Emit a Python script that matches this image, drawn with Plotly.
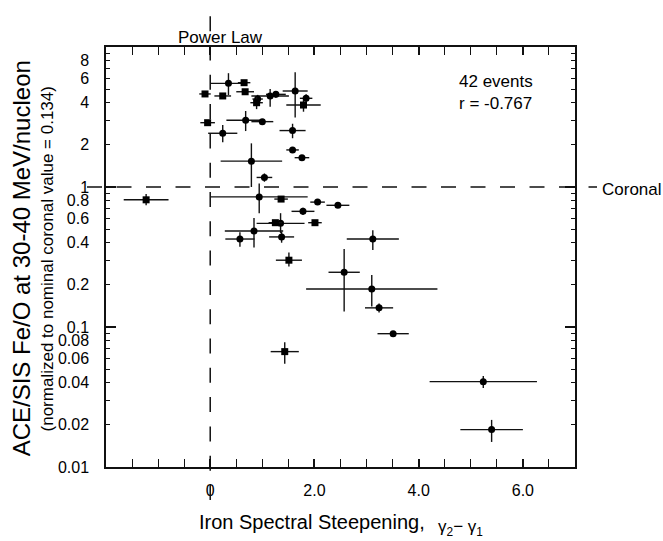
import plotly.graph_objects as go

# ---------------- data ----------------
# events plotted with filled circles
circ_x = [0.35, 0.91, 1.15, 1.26, 1.63, 1.84, 0.68, 1.00, 0.24, 1.58, 1.58, 1.76, 0.79, 1.04,
          0.94, 2.06, 2.45, 1.78, 1.35, 0.84, 0.57, 1.37, 2.57, 3.10, 3.12, 3.24, 3.51, 5.24, 5.40]
circ_y = [5.5, 4.25, 4.47, 4.59, 4.85, 4.30, 3.00, 2.93, 2.42, 2.53, 1.84, 1.62, 1.53, 1.17,
          0.85, 0.78, 0.74, 0.67, 0.55, 0.485, 0.425, 0.44, 0.246, 0.187, 0.425, 0.137, 0.0896, 0.0407, 0.0185]
circ_xerr = [0.35, 0.10, 0.36, 0.19, 0.24, 0.12, 0.37, 0.21, 0.28, 0.25, 0.12, 0.14, 0.59, 0.15,
             0.93, 0.14, 0.22, 0.22, 0.46, 0.56, 0.28, 0.24, 0.30, 1.26, 0.50, 0.27, 0.30, 1.03, 0.60]
circ_yerr_up = [1.0, 0.3, 0.55, 0.25, 1.75, 0.3, 0.49, 0.1, 0.35, 0.3, 0.05, 0.05, 0.52, 0.08,
                0.21, 0.02, 0.02, 0.04, 0.10, 0.115, 0.05, 0.04, 0.114, 0.048, 0.065, 0.01, 0.004, 0.004, 0.0032]
circ_yerr_dn = [0.96, 0.3, 0.72, 0.25, 1.72, 0.3, 0.49, 0.1, 0.33, 0.3, 0.05, 0.05, 0.53, 0.08,
                0.20, 0.02, 0.02, 0.04, 0.08, 0.115, 0.05, 0.04, 0.117, 0.047, 0.07, 0.01, 0.004, 0.004, 0.0034]

# events plotted with filled squares
sq_x = [0.65, -0.10, 0.24, 0.67, 0.89, 1.79, -0.05, -1.23, 1.36, 2.01, 1.25, 1.51, 1.43]
sq_y = [5.56, 4.62, 4.47, 4.79, 4.00, 3.85, 2.88, 0.81, 0.82, 0.556, 0.556, 0.30, 0.0667]
sq_xerr = [0.12, 0.11, 0.16, 0.17, 0.12, 0.33, 0.14, 0.43, 0.13, 0.13, 0.13, 0.25, 0.27]
sq_yerr_up = [0.1, 0.1, 0.1, 0.1, 0.4, 0.33, 0.1, 0.08, 0.03, 0.02, 0.02, 0.04, 0.011]
sq_yerr_dn = [0.1, 0.1, 0.1, 0.1, 0.4, 0.40, 0.1, 0.07, 0.03, 0.02, 0.02, 0.03, 0.012]

# axes
x_range = [-2.0, 7.0]
x_tickvals = [0, 2, 4, 6]
x_ticktext = ["0", "2.0", "4.0", "6.0"]
y_range_log = [-2, 1]
y_tickvals = [0.01, 0.02, 0.04, 0.06, 0.08, 0.1, 0.2, 0.4, 0.6, 0.8, 1, 2, 4, 6, 8]
y_ticktext = ["0.01", "0.02", "0.04", "0.06", "0.08", "0.1", "0.2", "0.4", "0.6", "0.8", "1", "2", "4", "6", "8"]
y_minorvals = [0.03, 0.05, 0.07, 0.09, 0.3, 0.5, 0.7, 0.9, 3, 5, 7, 9]
y_decades = [0.01, 0.1, 1, 10]

coronal_level = 1.0
power_law_level = 0.0
n_events_text = "42 events"
corr_text = "r = -0.767"

FONT = "Liberation Sans, Arial, sans-serif"
INK = "#111111"

fig = go.Figure()

err_style = dict(type="data", color=INK, thickness=1.4, width=0)

fig.add_trace(go.Scatter(
    x=circ_x, y=circ_y, mode="markers",
    marker=dict(symbol="circle", size=7, color="black"),
    error_x=dict(array=circ_xerr, **err_style),
    error_y=dict(symmetric=False, array=circ_yerr_up, arrayminus=circ_yerr_dn, **err_style),
    showlegend=False, hoverinfo="x+y"))

fig.add_trace(go.Scatter(
    x=sq_x, y=sq_y, mode="markers",
    marker=dict(symbol="square", size=7, color="black"),
    error_x=dict(array=sq_xerr, **err_style),
    error_y=dict(symmetric=False, array=sq_yerr_up, arrayminus=sq_yerr_dn, **err_style),
    showlegend=False, hoverinfo="x+y"))

# helper trace for the longer decade ticks
fig.add_trace(go.Scatter(x=[None], y=[None], yaxis="y2", showlegend=False, hoverinfo="skip"))

# reference lines
fig.add_shape(type="line", xref="paper", yref="y", x0=-0.0405, x1=1.047,
              y0=coronal_level, y1=coronal_level,
              line=dict(color=INK, width=1.5, dash="15px,14.5px"))
fig.add_shape(type="line", xref="x", yref="paper", x0=power_law_level, x1=power_law_level,
              y0=-0.0786, y1=1.08,
              line=dict(color=INK, width=1.5, dash="15px,14.3px"))

fig.update_layout(
    width=663, height=541,
    margin=dict(l=106, r=88, t=47, b=74),
    paper_bgcolor="white", plot_bgcolor="white",
    font=dict(family=FONT, color="black", size=16),
    showlegend=False,
    xaxis=dict(
        range=x_range, showgrid=False, zeroline=False,
        showline=True, linecolor=INK, linewidth=1.5, mirror="allticks",
        ticks="inside", tickvals=x_tickvals, ticktext=x_ticktext,
        ticklen=8, tickwidth=1.5, tickcolor=INK,
        tickfont=dict(size=16, family=FONT), ticklabelstandoff=8,
        minor=dict(dtick=0.5, tick0=0, ticks="inside", ticklen=4, tickwidth=1.2, tickcolor=INK),
    ),
    yaxis=dict(
        type="log", range=y_range_log, showgrid=False, zeroline=False,
        showline=True, linecolor=INK, linewidth=1.5, mirror="allticks",
        ticks="inside", tickvals=y_tickvals, ticktext=y_ticktext,
        ticklen=4, tickwidth=1.2, tickcolor=INK,
        tickfont=dict(size=16, family=FONT), ticklabelstandoff=12,
        minor=dict(tickvals=y_minorvals, ticks="inside", ticklen=4, tickwidth=1.2, tickcolor=INK),
    ),
    yaxis2=dict(
        type="log", range=y_range_log, overlaying="y", side="left", anchor="x",
        showgrid=False, zeroline=False, showline=False, mirror="allticks",
        ticks="inside", tickvals=y_decades, ticklen=10, tickwidth=1.5, tickcolor=INK,
        showticklabels=False,
    ),
)

C = dict(xanchor="center", yanchor="middle", showarrow=False)
annotations = [
    dict(text="Power Law", xref="paper", yref="paper", x=0.245, y=1.022,
         font=dict(size=17), **C),
    dict(text=n_events_text + "<br>" + corr_text, xref="paper", yref="paper", x=0.748, y=0.8917,
         align="left", font=dict(size=17),
         **{**C, "xanchor": "left"}),
    dict(text="Coronal", xref="paper", yref="y", x=1.053, y=0, yshift=-2,
         font=dict(size=17), **{**C, "xanchor": "left"}),
    dict(text="Iron Spectral Steepening,", xref="paper", yref="paper", x=0.439, y=-0.131,
         font=dict(size=20), **C),
    dict(text="γ<sub>2</sub>− γ<sub>1</sub>", xref="paper", yref="paper", x=0.7036, y=-0.146,
         font=dict(size=17), **{**C, "xanchor": "left"}),
    dict(text="ACE/SIS Fe/O at 30-40 MeV/nucleon", xref="paper", yref="paper", x=-0.181, y=0.497,
         textangle=-90, font=dict(size=24), **C),
    dict(text="(normalized to nominal coronal value = 0.134)", xref="paper", yref="paper",
         x=-0.125, y=0.495, textangle=-90, font=dict(size=17), **C),
]
fig.update_layout(annotations=annotations)

fig.write_html("out.html")
